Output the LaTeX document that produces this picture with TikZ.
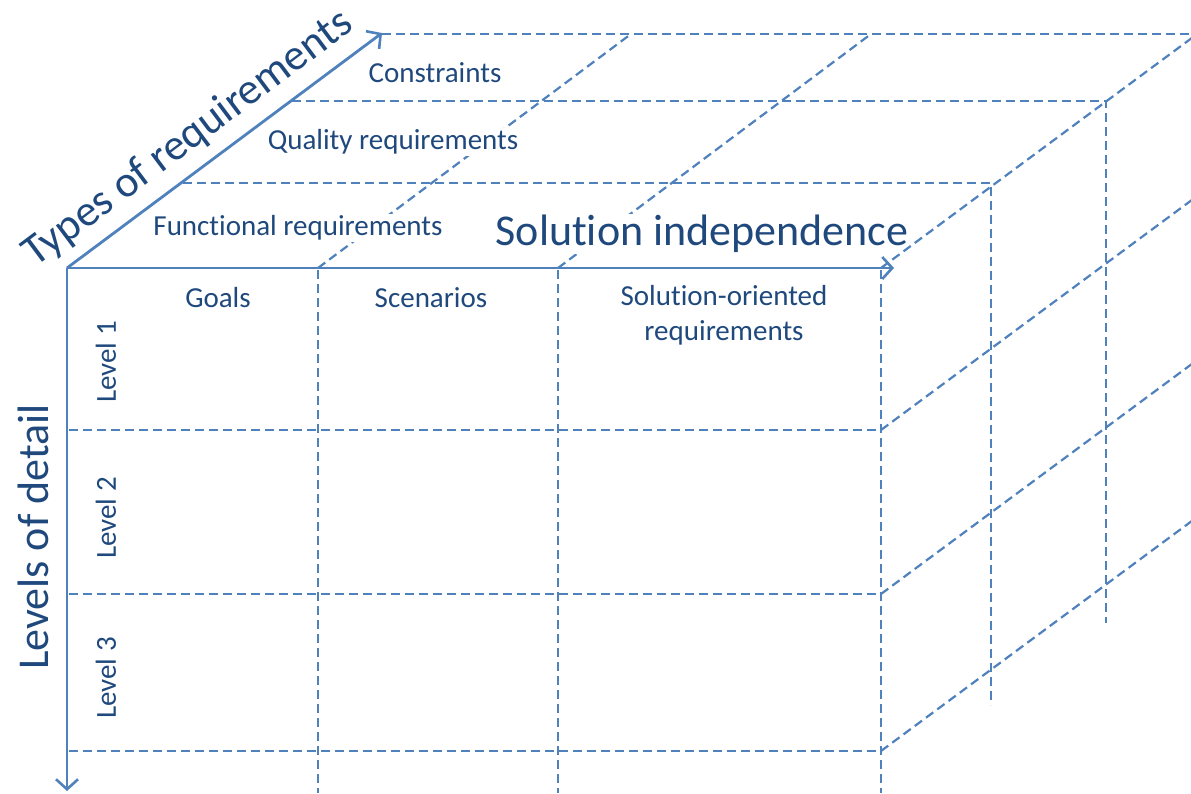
\documentclass[tikz,border=0pt]{standalone}
\usepackage{fontspec}
\setmainfont{Carlito}[Ligatures=NoCommon]
\usetikzlibrary{arrows.meta}
\definecolor{ln}{RGB}{79,129,189}
\definecolor{tx}{RGB}{31,73,125}
\begin{document}
\begin{tikzpicture}[x=1pt,y=-1pt,
  gridl/.style={draw=ln, line width=2.2pt, dash pattern=on 9pt off 5pt},
  axisarrow/.style={draw=ln, line width=2.8pt, -{Straight Barb[length=10pt,width=22pt,line width=2.6pt]}},
  lbl/.style={text=tx, font=\fontsize{29}{35}\selectfont, inner sep=2pt, align=center},
  lvlbl/.style={text=tx, font=\fontsize{29}{34}\selectfont, inner sep=1pt},
  wlbl/.style={lbl, fill=white},
  big/.style={text=tx, font=\fontsize{44}{50}\selectfont, inner sep=1pt}]
\clip (0,0) rectangle (1191,793);
\fill[white] (0,0) rectangle (1191,793);
% front grid
\draw[gridl] (69,430) -- (881,430);
\draw[gridl] (69,594) -- (881,594);
\draw[gridl] (69,751) -- (881,751);
\draw[gridl] (318,270) -- (318,793);
\draw[gridl] (558,270) -- (558,793);
\draw[gridl] (881,270) -- (881,793);
% back layers
\draw[gridl] (183,183) -- (991,183) -- (991,705);
\draw[gridl] (292,101) -- (1106,101) -- (1106,623);
\draw[gridl] (382,34) -- (1191,34);
% depth lines
\draw[gridl] (318,268) -- (631,34);
\draw[gridl] (558,268) -- (871,34);
\draw[gridl] (881,430) -- ++(400,-296);
\draw[gridl] (881,594) -- ++(400,-296);
\draw[gridl] (881,751) -- ++(400,-296);
% labels with white background
\node[wlbl] (con) at (435,73) {Constraints};
\node[wlbl] (qual) at (393,142) {Quality requirements};
\node[wlbl] (func) at (298,228) {Functional requirements};
\node[big, fill=white] (sol) at (702,234) {Solution independence};
\draw[gridl] (881,268) -- ++(400,-296);
% other labels
\node[big, rotate=36.8] (types) at (188,139) {Types of requirements};
\node[big, rotate=90] (lvl) at (33,537) {Levels of detail};
\node[lbl] (goals) at (218,298) {Goals};
\node[lbl] (scen) at (431,298) {Scenarios};
\node[lbl] (solor) at (724,315) {Solution-oriented\\requirements};
\node[lvlbl, rotate=90] (l1) at (106,362) {Level 1};
\node[lvlbl, rotate=90] (l2) at (106,518) {Level 2};
\node[lvlbl, rotate=90] (l3) at (106,678) {Level 3};
% axes
\coordinate (O) at (67,268);
\coordinate (xe) at (894,268);
\coordinate (ye) at (67,791);
\coordinate (ze) at (382,33);
\draw[axisarrow] (O) -- (xe);
\draw[axisarrow] (O) -- (ye);
\draw[axisarrow] (O) -- (ze);
\end{tikzpicture}
\end{document}
